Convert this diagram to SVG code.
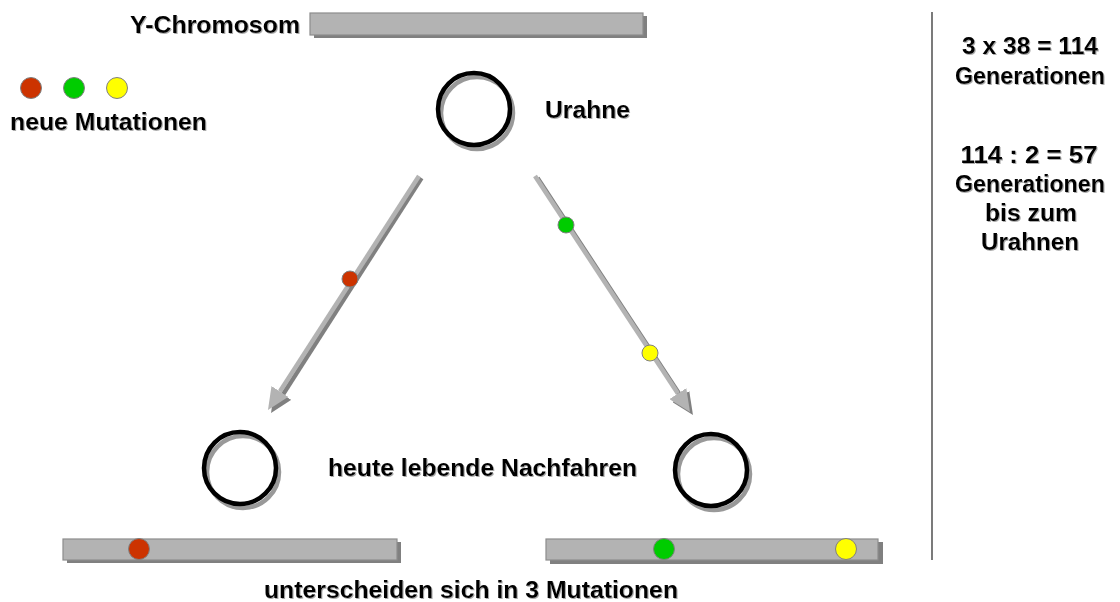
<svg xmlns="http://www.w3.org/2000/svg" width="1120" height="602" viewBox="0 0 1120 602">
  <defs>
    <style>
      .t { font-family: "Liberation Sans", Arial, sans-serif; font-weight: bold; font-size: 24px; fill: #000; filter: url(#ts); }
      .tr { font-family: "Liberation Sans", Arial, sans-serif; font-weight: bold; font-size: 23px; fill: #000; text-anchor: middle; filter: url(#ts); }
      .bar { fill: #B3B3B3; stroke: #8C8C8C; stroke-width: 1.2; }
      .barsh { fill: #808080; }
      .ring { fill: none; stroke: #000; stroke-width: 4.5; }
      .ringsh { fill: none; stroke: #999; stroke-width: 4.5; }
      .red { fill: #CC3300; stroke: #808080; stroke-width: 1; }
      .green { fill: #00CC00; stroke: #808080; stroke-width: 1; }
      .yellow { fill: #FFFF00; stroke: #808080; stroke-width: 1; }
      .lineL { stroke: #B3B3B3; stroke-width: 4.5; fill: none; }
      .lineD { stroke: #808080; stroke-width: 4.5; fill: none; }
    </style>
    <filter id="ts" x="-5%" y="-20%" width="110%" height="150%">
      <feDropShadow dx="1" dy="1" stdDeviation="0.5" flood-color="#888" flood-opacity="0.7"/>
    </filter>
    <marker id="ahL" viewBox="0 0 22 20" refX="0" refY="10" markerWidth="22" markerHeight="20" markerUnits="userSpaceOnUse" orient="auto">
      <path d="M0,0 L22,10 L0,20 z" fill="#B3B3B3"/>
    </marker>
    <marker id="ahD" viewBox="0 0 22 20" refX="0" refY="10" markerWidth="22" markerHeight="20" markerUnits="userSpaceOnUse" orient="auto">
      <path d="M0,0 L22,10 L0,20 z" fill="#808080"/>
    </marker>
  </defs>
  <rect width="1120" height="602" fill="#fff"/>

  <g id="connectors">
    <g id="arrow-left">
      <line class="lineD" x1="421.5" y1="178" x2="282.9" y2="394.5" marker-end="url(#ahD)"/>
      <line class="lineL" x1="419" y1="176" x2="279.9" y2="391.5" marker-end="url(#ahL)"/>
    </g>
    <g id="arrow-right">
      <line class="lineD" x1="537.5" y1="178" x2="680.9" y2="396.6" marker-end="url(#ahD)"/>
      <line class="lineL" x1="535" y1="176" x2="677.9" y2="393.6" marker-end="url(#ahL)"/>
    </g>
    <circle class="red" cx="350" cy="279" r="8"/>
    <circle class="green" cx="566" cy="225" r="8"/>
    <circle class="yellow" cx="650" cy="353" r="8"/>
  </g>

  <g id="y-chromosom">
    <rect class="barsh" x="314" y="16" width="333" height="22"/>
    <rect class="bar" x="310" y="13" width="333" height="22"/>
    <text class="t" x="130" y="33" textLength="170" lengthAdjust="spacingAndGlyphs">Y-Chromosom</text>
  </g>

  <g id="legend">
    <circle class="red" cx="31" cy="88" r="10.5"/>
    <circle class="green" cx="74" cy="88" r="10.5"/>
    <circle class="yellow" cx="117" cy="88" r="10.5"/>
    <text class="t" x="10" y="130" textLength="197" lengthAdjust="spacingAndGlyphs">neue Mutationen</text>
  </g>

  <g id="urahne">
    <circle class="ringsh" cx="477" cy="113" r="36"/>
    <circle class="ring" cx="474" cy="109" r="36"/>
    <text class="t" x="545" y="118" textLength="85" lengthAdjust="spacingAndGlyphs">Urahne</text>
  </g>

  <g id="nachfahre-links">
    <circle class="ringsh" cx="243" cy="472" r="36"/>
    <circle class="ring" cx="240" cy="468" r="36"/>
  </g>

  <g id="nachfahre-rechts">
    <circle class="ringsh" cx="714" cy="474" r="36"/>
    <circle class="ring" cx="711" cy="470" r="36"/>
  </g>

  <g id="label-nachfahren">
    <text class="t" x="328" y="476" textLength="309" lengthAdjust="spacingAndGlyphs">heute lebende Nachfahren</text>
  </g>

  <g id="chromosom-links">
    <rect class="barsh" x="67" y="542" width="334" height="21"/>
    <rect class="bar" x="63" y="539" width="334" height="21"/>
    <circle class="red" cx="139" cy="549" r="10.5"/>
  </g>

  <g id="chromosom-rechts">
    <rect class="barsh" x="550" y="542" width="333" height="22"/>
    <rect class="bar" x="546" y="539" width="332" height="21"/>
    <circle class="green" cx="664" cy="549" r="10.5"/>
    <circle class="yellow" cx="846" cy="549" r="10.5"/>
  </g>

  <g id="label-unterschied">
    <text class="t" x="264" y="598" textLength="414" lengthAdjust="spacingAndGlyphs">unterscheiden sich in 3 Mutationen</text>
  </g>

  <g id="rechnung">
    <line x1="932" y1="12" x2="932" y2="560" stroke="#222" stroke-width="1.2"/>
    <text class="tr" x="1030" y="54" textLength="136" lengthAdjust="spacingAndGlyphs">3 x 38 = 114</text>
    <text class="tr" x="1030" y="84" textLength="150" lengthAdjust="spacingAndGlyphs">Generationen</text>
    <text class="tr" x="1029" y="163" textLength="137" lengthAdjust="spacingAndGlyphs">114 : 2 = 57</text>
    <text class="tr" x="1030" y="192" textLength="150" lengthAdjust="spacingAndGlyphs">Generationen</text>
    <text class="tr" x="1031" y="221" textLength="92" lengthAdjust="spacingAndGlyphs">bis zum</text>
    <text class="tr" x="1030" y="250" textLength="98" lengthAdjust="spacingAndGlyphs">Urahnen</text>
  </g>
</svg>
